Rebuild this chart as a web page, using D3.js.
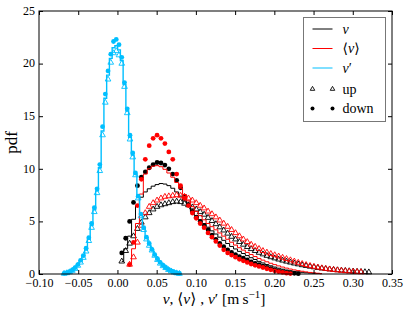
<!DOCTYPE html>
<html>
<head>
<meta charset="utf-8">
<script src="https://cdn.jsdelivr.net/npm/d3@7"></script>
<style>
body{margin:0;background:#fff}
text{font-family:"Liberation Serif","DejaVu Serif",serif}
</style>
</head>
<body>
<script>
// bin centres for v and <v> (m/s)
var vBins = [0.0055,0.0105,0.0155,0.0205,0.0255,0.0305,0.0355,0.0405,0.0455,0.0505,
  0.0555,0.0605,0.0655,0.0705,0.0755,0.0805,0.0855,0.0905,0.0955,0.1005,
  0.1055,0.1105,0.1155,0.1205,0.1255,0.1305,0.1355,0.1405,0.1455,0.1505,
  0.1555,0.1605,0.1655,0.1705,0.1755,0.1805,0.1855,0.1905,0.1955,0.2005,
  0.2055,0.2105,0.2155,0.2205,0.2255,0.2305,0.2355,0.2405,0.2455,0.2505,
  0.2555,0.2605,0.2655,0.2705,0.2755,0.2805,0.2855,0.2905,0.2955,0.3005,
  0.3055,0.3105,0.3155,0.3205];

// v : all / up / down
var vAll = [1.2,2.4,3.6,5.2,6.5,7.3,7.8,8.1,8.35,8.5,
  8.6,8.55,8.4,8.15,7.8,7.4,6.95,6.45,6.0,5.55,
  5.15,4.8,4.45,4.1,3.8,3.5,3.2,2.9,2.62,2.38,
  2.15,1.95,1.75,1.55,1.38,1.2,1.05,0.9,0.78,0.66,
  0.55,0.46,0.38,0.31,0.25,0.2,0.16,0.12,0.09,0.07,
  0.05,0.03,null,null,null,null,null,null,null,null,null,null,null,null];
var vUp = [1.2,2.2,2.9,3.6,4.3,4.9,5.4,5.8,6.15,6.4,
  6.55,6.65,6.75,6.85,6.9,6.85,6.7,6.55,6.35,6.15,
  5.9,5.65,5.35,5.05,4.75,4.45,4.15,3.85,3.55,3.3,
  3.05,2.8,2.58,2.38,2.2,2.03,1.88,1.74,1.61,1.5,
  1.39,1.29,1.19,1.1,1.01,0.93,0.85,0.78,0.71,0.65,
  0.59,0.54,0.49,0.45,0.41,0.37,0.34,0.31,0.28,0.25,
  0.23,0.21,0.19,0.17];
var vDown = [2.0,3.4,5.0,6.8,8.4,9.2,9.7,10.1,10.4,10.6,
  10.55,10.35,10.0,9.5,8.9,8.2,7.4,6.6,5.95,5.4,
  5.0,4.6,4.2,3.7,3.3,2.9,2.6,2.3,2.05,1.85,
  1.65,1.5,1.33,1.15,1.0,0.88,0.75,0.62,0.5,0.4,
  0.3,0.22,0.16,0.1,0.06,0.03,null,null,null,null,
  null,null,null,null,null,null,null,null,null,null,null,null,null,null];

// <v> : all / up / down
var mAll = [null,null,0.9,2.4,4.8,7.6,9.5,10.0,10.25,10.3,
  10.2,9.95,9.6,9.2,8.7,8.15,7.55,6.95,6.4,5.95,
  5.55,5.15,4.8,4.5,4.2,3.9,3.6,3.3,3.02,2.75,
  2.5,2.27,2.05,1.85,1.66,1.48,1.32,1.16,1.02,0.89,
  0.77,0.66,0.56,0.47,0.39,0.32,0.26,0.2,0.15,0.11,
  0.07,0.04,null,null,null,null,null,null,null,null,null,null,null,null];
var mUp = [null,null,0.9,1.6,3.0,4.6,5.8,6.4,6.75,7.0,
  7.2,7.35,7.4,7.45,7.5,7.45,7.35,7.2,7.0,6.75,
  6.5,6.25,5.95,5.7,5.4,5.1,4.8,4.5,4.2,3.9,
  3.6,3.3,3.05,2.8,2.6,2.4,2.2,2.05,1.92,1.8,
  1.68,1.56,1.44,1.32,1.2,1.08,0.97,0.87,0.78,0.7,
  0.63,0.56,0.5,0.45,0.4,0.36,0.32,0.28,0.25,0.22,
  0.2,0.18,null,null];
var mDown = [null,null,0.9,3.0,6.5,9.0,10.9,12.2,12.9,13.2,
  12.9,12.4,11.6,10.9,9.5,8.4,7.2,6.5,5.8,5.3,
  4.8,4.4,3.9,3.5,3.1,2.7,2.3,2.0,1.8,1.6,
  1.4,1.25,1.1,0.95,0.82,0.72,0.62,0.5,0.4,0.3,
  0.22,0.15,0.08,0.04,null,null,null,null,null,null,
  null,null,null,null,null,null,null,null,null,null,null,null,null,null];

// bin centres for v'
var pBins = [-0.068,-0.0645,-0.061,-0.0575,-0.054,-0.0505,-0.047,-0.0435,-0.040,-0.0365,
  -0.033,-0.0295,-0.026,-0.0225,-0.019,-0.0155,-0.012,-0.0085,-0.005,-0.0015,
  0.002,0.0055,0.009,0.0125,0.016,0.0195,0.023,0.0265,0.030,0.0335,
  0.037,0.0405,0.044,0.0475,0.051,0.0545,0.058,0.0615,0.065,0.0685,
  0.072,0.0755,0.079];
var pAll = [0.05,0.1,0.2,0.35,0.55,0.85,1.2,1.65,2.3,3.3,
  4.6,6.1,7.9,10.1,13.6,16.7,18.9,20.5,21.5,21.7,
  21.3,20.3,18.0,15.5,13.0,11.3,9.5,7.3,5.6,4.3,
  3.4,2.8,2.3,1.8,1.4,1.05,0.8,0.6,0.42,0.28,
  0.17,0.09,0.04];
var pUp = [0.04,0.09,0.18,0.32,0.5,0.8,1.1,1.55,2.15,3.15,
  4.4,5.9,7.7,9.8,13.2,16.3,18.5,20.1,21.0,21.2,
  20.8,20.0,17.8,15.3,12.8,11.1,9.4,7.2,5.5,4.2,
  3.3,2.7,2.25,1.75,1.35,1.0,0.76,0.58,0.4,0.26,
  0.16,0.08,0.03];
var pDown = [0.06,0.12,0.22,0.38,0.6,0.9,1.3,1.75,2.45,3.45,
  4.8,6.3,8.1,10.4,14.0,17.1,19.3,20.9,22.1,22.3,
  21.8,20.6,18.2,15.7,13.2,11.5,9.6,7.4,5.7,4.4,
  3.5,2.9,2.35,1.85,1.45,1.1,0.85,0.62,0.44,0.3,
  0.18,0.1,0.05];

var xTicks = [-0.10,-0.05,0.00,0.05,0.10,0.15,0.20,0.25,0.30,0.35];
var yTicks = [0,5,10,15,20,25];

var W = 407, H = 315;
var m = {left:39, right:15, top:11, bottom:41};

var svg = d3.select("body").append("svg")
  .attr("width", W).attr("height", H);

var x = d3.scaleLinear().domain([-0.10,0.35]).range([m.left, W-m.right]);
var y = d3.scaleLinear().domain([0,25]).range([H-m.bottom, m.top]);

var groups = [
  {bins:vBins, all:vAll, up:vUp, down:vDown, color:"#000000", lw:1},
  {bins:vBins, all:mAll, up:mUp, down:mDown, color:"#ff0000", lw:1},
  {bins:pBins, all:pAll, up:pUp, down:pDown, color:"#00bfff", lw:1.4}
];

var plot = svg.append("g");

var line = d3.line()
  .defined(function(d){ return d[1] != null; })
  .x(function(d){ return x(d[0]); })
  .y(function(d){ return y(d[1]); })
  .curve(d3.curveStep);

var tri = d3.symbol().type(d3.symbolTriangle).size(14);

groups.forEach(function(g){
  var allPts = g.bins.map(function(b,i){ return [b, g.all[i]]; });
  var upPts = g.bins.map(function(b,i){ return [b, g.up[i]]; }).filter(function(d){ return d[1] != null; });
  var dnPts = g.bins.map(function(b,i){ return [b, g.down[i]]; }).filter(function(d){ return d[1] != null; });

  plot.append("path")
    .datum(allPts)
    .attr("d", line)
    .attr("fill","none")
    .attr("stroke", g.color)
    .attr("stroke-width", g.lw);

  plot.selectAll(null)
    .data(upPts)
    .enter()
    .append("path")
    .attr("d", tri)
    .attr("transform", function(d){ return "translate(" + x(d[0]) + "," + y(d[1]) + ")"; })
    .attr("fill","none")
    .attr("stroke", g.color)
    .attr("stroke-width", 0.9);

  plot.selectAll(null)
    .data(dnPts)
    .enter()
    .append("circle")
    .attr("cx", function(d){ return x(d[0]); })
    .attr("cy", function(d){ return y(d[1]); })
    .attr("r", 2.4)
    .attr("fill", g.color);
});

// axes, ticks pointing inward on all four sides
var gx = svg.append("g")
  .attr("transform","translate(0," + (H-m.bottom) + ")")
  .call(d3.axisBottom(x).tickValues(xTicks).tickFormat(d3.format(".2f")).tickSizeInner(-4).tickSizeOuter(0).tickPadding(4));
var gy = svg.append("g")
  .attr("transform","translate(" + m.left + ",0)")
  .call(d3.axisLeft(y).tickValues(yTicks).tickFormat(d3.format("d")).tickSizeInner(-4).tickSizeOuter(0).tickPadding(4));
var gt = svg.append("g")
  .attr("transform","translate(0," + m.top + ")")
  .call(d3.axisTop(x).tickValues(xTicks).tickFormat("").tickSizeInner(-4).tickSizeOuter(0));
var gr = svg.append("g")
  .attr("transform","translate(" + (W-m.right) + ",0)")
  .call(d3.axisRight(y).tickValues(yTicks).tickFormat("").tickSizeInner(-4).tickSizeOuter(0));

[gx,gy,gt,gr].forEach(function(g){
  g.select(".domain").remove();
  g.selectAll("text").attr("font-family","Liberation Serif").attr("font-size",12).attr("fill","#000");
  g.selectAll("line").attr("stroke","#000");
});
// y labels sit a little higher so "0" clears the x labels
gy.selectAll("text").attr("dy","0.28em");

svg.append("rect")
  .attr("x", m.left).attr("y", m.top)
  .attr("width", W-m.right-m.left).attr("height", H-m.bottom-m.top)
  .attr("fill","none").attr("stroke","#000").attr("stroke-width",1);

// axis labels
svg.append("text")
  .attr("transform","translate(17," + ((m.top + H - m.bottom)/2) + ") rotate(-90)")
  .attr("text-anchor","middle")
  .attr("font-size",17)
  .text("pdf");

var xl = svg.append("text")
  .attr("x", 214)
  .attr("y", 304)
  .attr("text-anchor","middle")
  .attr("font-size",15.5);
xl.append("tspan").attr("font-style","italic").text("v");
xl.append("tspan").text(", \u27e8");
xl.append("tspan").attr("font-style","italic").text("v");
xl.append("tspan").text("\u27e9 , ");
xl.append("tspan").attr("font-style","italic").text("v");
xl.append("tspan").text("\u2032 [m\u2009s");
xl.append("tspan").attr("dy",-6).attr("font-size",11).text("\u22121");
xl.append("tspan").attr("dy",6).text("]");

// legend
var lg = svg.append("g");
lg.append("rect")
  .attr("x",303.5).attr("y",17.5).attr("width",82).attr("height",104)
  .attr("fill","#fff").attr("stroke","#777").attr("stroke-width",1);

var legLines = [
  {label:["", "v", ""], color:"#000000", yy:29},
  {label:["\u27e8", "v", "\u27e9"], color:"#ff0000", yy:48.5},
  {label:["", "v", "\u2032"], color:"#00bfff", yy:68}
];
legLines.forEach(function(d){
  lg.append("line")
    .attr("x1",312.5).attr("x2",332.5).attr("y1",d.yy).attr("y2",d.yy)
    .attr("stroke",d.color).attr("stroke-width",1);
  var t = lg.append("text").attr("x",342.5).attr("y",d.yy+4.5).attr("font-size",14);
  t.append("tspan").text(d.label[0]);
  t.append("tspan").attr("font-style","italic").text(d.label[1]);
  t.append("tspan").text(d.label[2]);
});
[312.5,332.5].forEach(function(px){
  lg.append("path")
    .attr("d", d3.symbol().type(d3.symbolTriangle).size(9))
    .attr("transform","translate(" + px + ",89)")
    .attr("fill","none").attr("stroke","#000").attr("stroke-width",0.9);
  lg.append("circle").attr("cx",px).attr("cy",108.5).attr("r",2).attr("fill","#000");
});
lg.append("text").attr("x",342.5).attr("y",93.5).attr("font-size",14).text("up");
lg.append("text").attr("x",342.5).attr("y",113).attr("font-size",14).text("down");
</script>
</body>
</html>
